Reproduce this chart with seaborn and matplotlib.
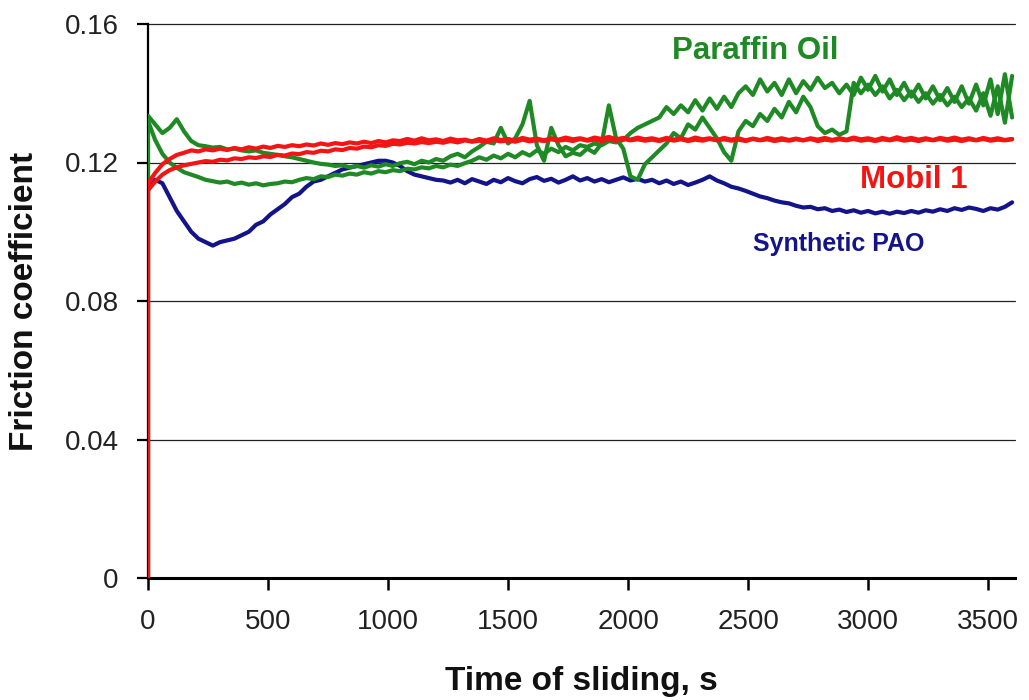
import numpy as np
import pandas as pd
import matplotlib
matplotlib.use("Agg")
import matplotlib.pyplot as plt
import seaborn as sns

# Sliding time grid (s): start-up point, then one reading every 30 s
TIME_S = np.r_[0, np.arange(0, 3601, 30)]

# Friction coefficient traces (first value = rest state before sliding starts)
PAO = [0.0,
    0.1120, 0.1150, 0.1140, 0.1100, 0.1060, 0.1030, 0.1000, 0.0980, 0.0970, 0.0960,
    0.0970, 0.0975, 0.0980, 0.0990, 0.1000, 0.1020, 0.1030, 0.1050, 0.1065, 0.1080,
    0.1100, 0.1110, 0.1130, 0.1145, 0.1150, 0.1160, 0.1170, 0.1180, 0.1185, 0.1190,
    0.1195, 0.1200, 0.1205, 0.1205, 0.1200, 0.1190, 0.1175, 0.1165, 0.1160, 0.1155,
    0.1150, 0.1148, 0.1142, 0.1150, 0.1140, 0.1152, 0.1145, 0.1138, 0.1150, 0.1143,
    0.1155, 0.1146, 0.1140, 0.1152, 0.1158, 0.1147, 0.1153, 0.1142, 0.1150, 0.1160,
    0.1148, 0.1155, 0.1145, 0.1152, 0.1143, 0.1150, 0.1157, 0.1148, 0.1153, 0.1145,
    0.1150, 0.1140, 0.1148, 0.1138, 0.1145, 0.1135, 0.1142, 0.1150, 0.1160, 0.1148,
    0.1140, 0.1130, 0.1125, 0.1118, 0.1110, 0.1102, 0.1097, 0.1090, 0.1085, 0.1082,
    0.1075, 0.1070, 0.1072, 0.1065, 0.1068, 0.1060, 0.1064, 0.1057, 0.1062, 0.1055,
    0.1060, 0.1053, 0.1058, 0.1052, 0.1058, 0.1054, 0.1060, 0.1055, 0.1062, 0.1058,
    0.1065, 0.1060, 0.1068, 0.1063, 0.1070, 0.1066, 0.1060, 0.1068, 0.1064, 0.1072,
    0.1085]

PARAFFIN_RUN1 = [0.0,
    0.1335, 0.1310, 0.1285, 0.1300, 0.1325, 0.1290, 0.1262, 0.1250, 0.1247, 0.1243,
    0.1245, 0.1238, 0.1240, 0.1235, 0.1232, 0.1235, 0.1228, 0.1225, 0.1222, 0.1218,
    0.1215, 0.1210, 0.1205, 0.1200, 0.1196, 0.1194, 0.1190, 0.1192, 0.1186, 0.1190,
    0.1185, 0.1192, 0.1188, 0.1195, 0.1190, 0.1198, 0.1202, 0.1195, 0.1205, 0.1200,
    0.1210, 0.1205, 0.1218, 0.1225, 0.1215, 0.1232, 0.1245, 0.1260, 0.1255, 0.1300,
    0.1255, 0.1270, 0.1310, 0.1378, 0.1250, 0.1205, 0.1300, 0.1250, 0.1218, 0.1228,
    0.1222, 0.1240, 0.1228, 0.1255, 0.1365, 0.1270, 0.1240, 0.1160, 0.1150, 0.1195,
    0.1215, 0.1235, 0.1255, 0.1285, 0.1270, 0.1310, 0.1295, 0.1330, 0.1300, 0.1270,
    0.1230, 0.1205, 0.1290, 0.1320, 0.1305, 0.1340, 0.1320, 0.1355, 0.1330, 0.1375,
    0.1345, 0.1390, 0.1360, 0.1305, 0.1285, 0.1295, 0.1280, 0.1290, 0.1430, 0.1400,
    0.1425, 0.1395, 0.1420, 0.1385, 0.1410, 0.1380, 0.1405, 0.1375, 0.1400, 0.1370,
    0.1395, 0.1365, 0.1390, 0.1360, 0.1385, 0.1350, 0.1400, 0.1335, 0.1420, 0.1315,
    0.1450]

PARAFFIN_RUN2 = [0.0,
    0.1320, 0.1265, 0.1225, 0.1200, 0.1185, 0.1172, 0.1165, 0.1158, 0.1150, 0.1146,
    0.1142, 0.1145, 0.1138, 0.1142, 0.1136, 0.1140, 0.1134, 0.1138, 0.1140, 0.1145,
    0.1143, 0.1150, 0.1155, 0.1152, 0.1160, 0.1158, 0.1165, 0.1162, 0.1168, 0.1165,
    0.1172, 0.1168, 0.1175, 0.1172, 0.1178, 0.1175, 0.1182, 0.1180, 0.1186, 0.1183,
    0.1190, 0.1186, 0.1194, 0.1190, 0.1198, 0.1205, 0.1215, 0.1208, 0.1220, 0.1212,
    0.1225, 0.1215, 0.1230, 0.1220, 0.1235, 0.1225, 0.1240, 0.1230, 0.1245, 0.1235,
    0.1250, 0.1245, 0.1255, 0.1250, 0.1262, 0.1258, 0.1265, 0.1285, 0.1300, 0.1310,
    0.1320, 0.1330, 0.1360, 0.1340, 0.1365, 0.1345, 0.1380, 0.1350, 0.1385, 0.1355,
    0.1390, 0.1360, 0.1400, 0.1420, 0.1395, 0.1440, 0.1405, 0.1430, 0.1395, 0.1440,
    0.1400, 0.1435, 0.1410, 0.1445, 0.1415, 0.1430, 0.1400, 0.1425, 0.1395, 0.1445,
    0.1410, 0.1450, 0.1405, 0.1440, 0.1395, 0.1430, 0.1390, 0.1425, 0.1385, 0.1420,
    0.1380, 0.1415, 0.1375, 0.1420, 0.1370, 0.1425, 0.1365, 0.1440, 0.1340, 0.1455,
    0.1330]

MOBIL_RUN1 = [0.0,
    0.1140, 0.1170, 0.1195, 0.1210, 0.1222, 0.1228, 0.1235, 0.1232, 0.1238, 0.1235,
    0.1240, 0.1236, 0.1242, 0.1238, 0.1244, 0.1240, 0.1246, 0.1242, 0.1248, 0.1245,
    0.1250, 0.1247, 0.1252, 0.1249, 0.1255, 0.1251, 0.1256, 0.1253, 0.1258, 0.1255,
    0.1260, 0.1256, 0.1262, 0.1258, 0.1264, 0.1262, 0.1268, 0.1263, 0.1270, 0.1264,
    0.1267, 0.1262, 0.1269, 0.1264, 0.1266, 0.1261, 0.1268, 0.1263, 0.1270, 0.1265,
    0.1268, 0.1263, 0.1271, 0.1266, 0.1269, 0.1264, 0.1270, 0.1266, 0.1272, 0.1267,
    0.1270, 0.1265, 0.1272, 0.1268, 0.1274, 0.1267, 0.1271, 0.1266, 0.1272, 0.1267,
    0.1270, 0.1265, 0.1271, 0.1266, 0.1270, 0.1265, 0.1272, 0.1267, 0.1270, 0.1265,
    0.1271, 0.1266, 0.1270, 0.1264, 0.1269, 0.1265, 0.1271, 0.1266, 0.1270, 0.1265,
    0.1269, 0.1264, 0.1270, 0.1266, 0.1271, 0.1265, 0.1270, 0.1266, 0.1272, 0.1267,
    0.1270, 0.1265, 0.1271, 0.1266, 0.1273, 0.1267, 0.1271, 0.1266, 0.1270, 0.1265,
    0.1271, 0.1267, 0.1272, 0.1266, 0.1270, 0.1265, 0.1271, 0.1266, 0.1270, 0.1265,
    0.1268]

MOBIL_RUN2 = [0.0,
    0.1120, 0.1145, 0.1165, 0.1178, 0.1186, 0.1192, 0.1196, 0.1200, 0.1204, 0.1202,
    0.1208, 0.1206, 0.1212, 0.1210, 0.1215, 0.1213, 0.1218, 0.1216, 0.1222, 0.1220,
    0.1226, 0.1224, 0.1230, 0.1228, 0.1234, 0.1232, 0.1238, 0.1236, 0.1242, 0.1240,
    0.1246, 0.1244, 0.1250, 0.1248, 0.1254, 0.1252, 0.1257, 0.1255, 0.1259, 0.1256,
    0.1260, 0.1257, 0.1262, 0.1258, 0.1264, 0.1260, 0.1263, 0.1259, 0.1265, 0.1261,
    0.1264, 0.1260, 0.1266, 0.1261, 0.1265, 0.1262, 0.1267, 0.1263, 0.1266, 0.1262,
    0.1268, 0.1263, 0.1266, 0.1262, 0.1267, 0.1263, 0.1268, 0.1264, 0.1267, 0.1263,
    0.1266, 0.1262, 0.1268, 0.1263, 0.1267, 0.1262, 0.1266, 0.1263, 0.1268, 0.1264,
    0.1267, 0.1263, 0.1266, 0.1262, 0.1268, 0.1264, 0.1267, 0.1262, 0.1266, 0.1263,
    0.1267, 0.1264, 0.1268, 0.1262, 0.1266, 0.1263, 0.1267, 0.1264, 0.1268, 0.1263,
    0.1266, 0.1262, 0.1267, 0.1264, 0.1268, 0.1263, 0.1266, 0.1262, 0.1267, 0.1264,
    0.1268, 0.1263, 0.1266, 0.1262, 0.1267, 0.1264, 0.1268, 0.1263, 0.1266, 0.1264,
    0.1267]

X_TICKS = [0, 500, 1000, 1500, 2000, 2500, 3000, 3500]
Y_TICKS = [0, 0.04, 0.08, 0.12, 0.16]
Y_TICK_LABELS = ["0", "0.04", "0.08", "0.12", "0.16"]

OIL_COLORS = {"Synthetic PAO": "#14148a", "Paraffin Oil": "#1f8a25", "Mobil 1": "#f51414"}

runs = [
    ("Synthetic PAO", "PAO-1", PAO),
    ("Paraffin Oil", "PO-1", PARAFFIN_RUN1),
    ("Paraffin Oil", "PO-2", PARAFFIN_RUN2),
    ("Mobil 1", "M1-1", MOBIL_RUN1),
    ("Mobil 1", "M1-2", MOBIL_RUN2),
]
df = pd.concat(
    [pd.DataFrame({"time": TIME_S, "mu": vals, "oil": oil, "run": run}) for oil, run, vals in runs],
    ignore_index=True,
)

sns.set_theme(style="white")
plt.rcParams["font.family"] = ["Liberation Sans", "DejaVu Sans"]

fig = plt.figure(figsize=(10.29, 7.0), dpi=100)
ax = fig.add_axes([148 / 1029, 122 / 700, 867 / 1029, 554 / 700])

# draw blue first, then green, red on top
for oil in ["Synthetic PAO", "Paraffin Oil", "Mobil 1"]:
    sns.lineplot(
        data=df[df["oil"] == oil], x="time", y="mu", units="run",
        estimator=None, sort=False, color=OIL_COLORS[oil],
        linewidth=3.0, legend=False, ax=ax, zorder=3,
    )

ax.set_xlim(0, 3612)
ax.set_ylim(0, 0.16)
ax.set_xticks(X_TICKS, labels=[str(v) for v in X_TICKS])
ax.set_yticks(Y_TICKS, labels=Y_TICK_LABELS)

ax.grid(False)
for y in Y_TICKS[1:]:
    ax.axhline(y, color="#222222", linewidth=0.9, zorder=1, clip_on=False)

for side in ["top", "right"]:
    ax.spines[side].set_visible(False)
ax.spines["left"].set_color("black")
ax.spines["left"].set_linewidth(1.6)
ax.spines["bottom"].set_color("black")
ax.spines["bottom"].set_linewidth(2.2)

ax.tick_params(axis="x", direction="out", length=8.5, width=1.8, pad=14,
               labelsize=20, colors="black", bottom=True)
ax.tick_params(axis="y", direction="out", length=8, width=1.6, pad=13,
               labelsize=20, colors="black", left=True)
for lab in ax.get_xticklabels() + ax.get_yticklabels():
    lab.set_color("#222222")

ax.set_xlabel("Time of sliding, s", fontsize=24, fontweight="bold", color="#111111")
ax.xaxis.label.set_verticalalignment("baseline")
ax.xaxis.set_label_coords(0.5, -(690 - 578) / 554)
ax.set_ylabel("Friction coefficient", fontsize=24, fontweight="bold", color="#111111")
ax.yaxis.label.set_verticalalignment("baseline")
ax.yaxis.set_label_coords((33 - 148) / 867, 0.5)

ax.text(2183, 0.1499, "Paraffin Oil", color=OIL_COLORS["Paraffin Oil"],
        fontsize=22.5, fontweight="bold", ha="left", va="baseline")
ax.text(2967, 0.1125, "Mobil 1", color=OIL_COLORS["Mobil 1"],
        fontsize=22.5, fontweight="bold", ha="left", va="baseline")
ax.text(2521, 0.0944, "Synthetic PAO", color=OIL_COLORS["Synthetic PAO"],
        fontsize=18, fontweight="bold", ha="left", va="baseline")

fig.savefig("out.png", dpi=100, facecolor="white")
